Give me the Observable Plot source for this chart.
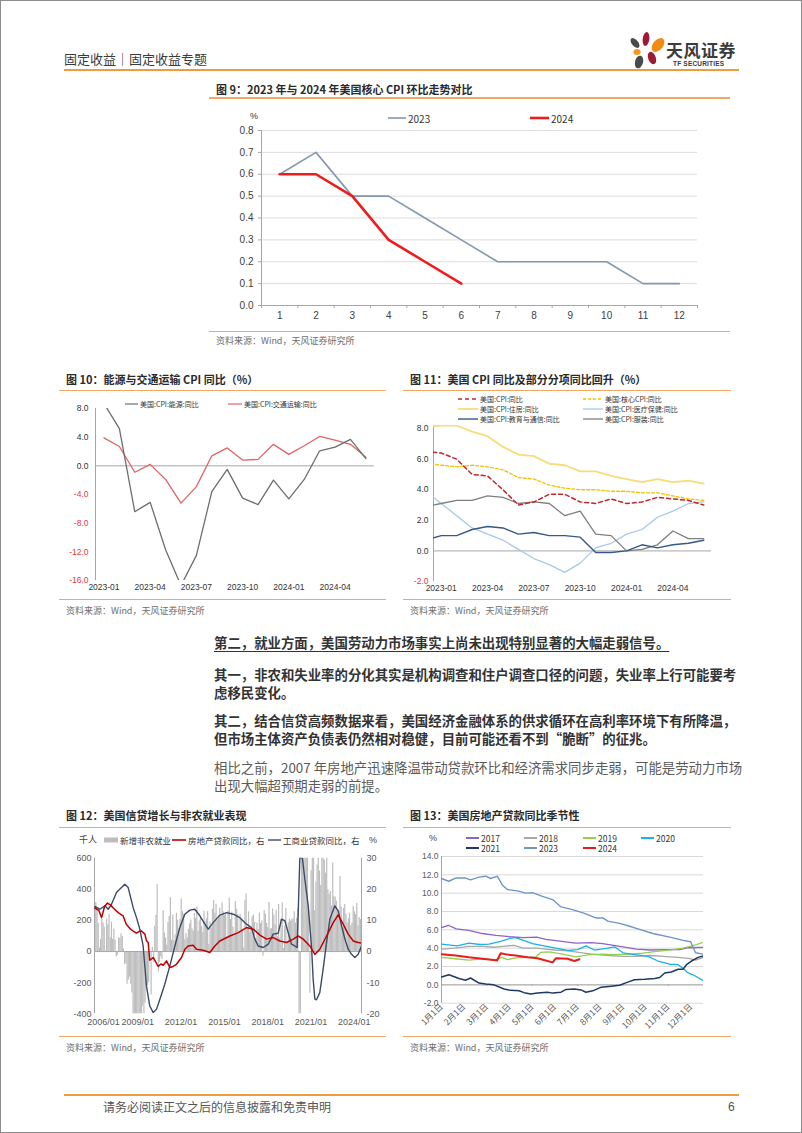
<!DOCTYPE html>
<html lang="zh-CN">
<head>
<meta charset="utf-8">
<script src="https://cdn.jsdelivr.net/npm/d3@7"></script>
<script src="https://cdn.jsdelivr.net/npm/@observablehq/plot@0.6"></script>
<style>
  html,body{margin:0;padding:0;background:#fff;}
  #page{position:relative;width:800px;height:1131px;border:1px solid #8c8c8c;overflow:hidden;
        font-family:"Noto Sans CJK SC","Noto Sans",sans-serif;color:#333;background:#fff;}
  .a{position:absolute;white-space:nowrap;}
  .leg{position:absolute;white-space:nowrap;display:flex;align-items:center;height:10px;}
  .leg svg{display:block;margin-right:2px;}
</style>
</head>
<body>
<div id="page"></div>
<script>
// ================= DATA =================
// Fig 9: US core CPI MoM, %
const months9 = [1,2,3,4,5,6,7,8,9,10,11,12];
const core2023 = [0.6,0.7,0.5,0.5,0.4,0.3,0.2,0.2,0.2,0.2,0.1,0.1];
const core2024 = [0.6,0.6,0.5,0.3,0.2,0.1];
const yTicks9 = [0,0.1,0.2,0.3,0.4,0.5,0.6,0.7,0.8];

// Fig 10: energy & transportation CPI YoY, %
const periods10 = ["2023-01","2023-02","2023-03","2023-04","2023-05","2023-06","2023-07","2023-08","2023-09",
                   "2023-10","2023-11","2023-12","2024-01","2024-02","2024-03","2024-04","2024-05","2024-06"];
const energyYoY    = [8.7,5.2,-6.4,-5.1,-11.7,-16.7,-12.5,-3.6,-0.5,-4.5,-5.4,-2.0,-4.6,-1.9,2.1,2.6,3.7,1.0];
const transportYoY = [3.9,2.7,-0.9,0.2,-1.9,-5.2,-2.9,1.4,2.5,0.8,0.9,3.0,1.6,2.8,4.1,3.6,3.0,1.2];
const xLabels10 = ["2023-01","2023-04","2023-07","2023-10","2024-01","2024-04"];
const yTicks10 = [-16,-12,-8,-4,0,4,8];

// Fig 11: CPI YoY and components, % (2022-12 .. 2024-06)
const periods11 = ["2022-12","2023-01","2023-02","2023-03","2023-04","2023-05","2023-06","2023-07","2023-08","2023-09",
                   "2023-10","2023-11","2023-12","2024-01","2024-02","2024-03","2024-04","2024-05","2024-06"];
const cpiYoY     = [6.5,6.4,6.0,5.0,4.9,4.0,3.0,3.2,3.7,3.7,3.2,3.1,3.4,3.1,3.2,3.5,3.4,3.3,3.0];
const coreYoY    = [5.7,5.6,5.5,5.6,5.5,5.3,4.8,4.7,4.3,4.1,4.0,4.0,3.9,3.9,3.8,3.8,3.6,3.4,3.3];
const housingYoY = [8.1,8.2,8.2,7.8,7.5,6.8,6.3,6.2,5.7,5.6,5.2,5.2,4.9,4.7,4.5,4.7,4.5,4.6,4.4];
const medicalYoY = [3.9,3.1,2.3,1.5,1.1,0.7,0.1,-0.5,-0.9,-1.4,-0.8,0.2,0.5,1.1,1.4,2.2,2.6,3.1,3.2];
const eduYoY     = [0.7,1.0,1.0,1.4,1.6,1.5,1.1,1.2,1.0,1.0,0.9,-0.1,-0.1,0.0,0.4,0.2,0.4,0.5,0.7];
const apparelYoY = [2.9,3.1,3.3,3.3,3.6,3.5,3.1,3.2,3.1,2.3,2.6,1.1,1.0,0.0,0.1,0.4,1.3,0.8,0.8];
const xLabels11 = ["2023-01","2023-04","2023-07","2023-10","2024-01","2024-04"];
const yTicks11 = [-2,0,2,4,6,8];

// Fig 12: nonfarm payrolls (thousand, monthly from 2006-01), loans YoY (%)
const payrollStart = 2006;
const payrolls = [
  277,315,280,182,23,77,207,184,157,4,208,171,
  238,88,188,78,144,71,-33,-24,88,84,114,98,
  17,-84,-78,-210,-185,-165,-209,-266,-452,-473,-769,-695,
  -791,-703,-823,-686,-351,-470,-329,-212,-219,-200,-7,-279,
  28,-69,163,232,430,-133,-70,-34,-52,262,119,87,
  42,188,225,346,73,235,70,107,246,202,146,207,
  338,257,239,75,115,87,143,177,203,146,132,244,
  211,286,130,197,226,162,122,261,190,212,258,47,
  190,151,272,329,246,304,202,230,280,227,312,255,
  234,238,86,262,344,206,254,157,100,321,272,239,
  115,240,209,144,24,327,370,150,255,124,155,224,
  234,187,84,182,141,247,179,197,-30,264,241,181,
  155,316,144,147,273,235,173,266,96,303,87,206,
  313,21,164,276,62,185,207,195,208,208,256,184,
  214,273,-1373,-20477,2725,4781,1726,1583,716,680,264,-268,
  520,710,704,264,447,557,689,517,424,677,647,588,
  504,714,398,368,386,293,568,352,350,324,263,239,
  482,287,146,278,303,240,184,210,246,165,182,290,
  256,236,310,165,218,206
];
const reLoanTime = [2006.02,2006.3,2006.49,2006.7,2006.9,2007.1,2007.3,2007.64,2007.98,2008.2,2008.5,2008.68,2008.91,2009.1,2009.26,2009.49,2009.6,2009.72,2009.83,2010.07,2010.41,2010.6,2010.76,2010.99,2011.22,2011.45,2011.68,2012.03,2012.26,2012.49,2012.84,2013.07,2013.53,2013.99,2014.34,2014.68,2015.38,2015.96,2016.53,2017.0,2017.46,2017.92,2018.38,2018.84,2019.31,2019.77,2020.12,2020.46,2020.92,2021.27,2021.61,2022.08,2022.54,2022.89,2023.23,2023.58,2023.93,2024.27,2024.5];
const reLoanYoY  = [14.0,13.2,10.9,14.5,15.6,15.0,14.0,12.5,11.5,8.8,7.2,6.6,5.9,6.5,6.6,5.6,3.5,2.9,-2.8,-1.9,-4.8,-4.0,-4.4,-3.0,-5.1,-4.8,-4.1,-1.9,0.75,1.8,2.0,0.75,0.4,-0.3,1.8,3.4,5.0,6.1,7.7,7.2,5.3,4.0,4.5,3.4,2.9,4.0,5.0,4.0,1.8,-0.9,0.75,5.0,9.3,11.8,8.8,5.6,3.4,2.9,2.7];
const ciLoanTime = [2006.02,2006.37,2006.72,2006.95,2007.18,2007.52,2007.87,2008.1,2008.33,2008.68,2008.91,2009.14,2009.37,2009.6,2009.83,2010.07,2010.3,2010.53,2010.87,2011.22,2011.57,2011.91,2012.26,2012.61,2012.95,2013.3,2013.65,2013.88,2014.22,2014.69,2015.15,2015.61,2016.07,2016.53,2016.88,2017.11,2017.34,2017.69,2018.04,2018.38,2018.73,2018.96,2019.19,2019.42,2019.65,2019.88,2020.04,2020.23,2020.41,2020.58,2020.81,2021.04,2021.15,2021.27,2021.38,2021.61,2021.84,2022.08,2022.31,2022.65,2022.89,2023.12,2023.35,2023.58,2023.81,2024.04,2024.27,2024.5];
const ciLoanYoY  = [14.5,13.6,14.7,13.6,15.2,19.0,20.6,21.6,20.6,14.1,10.9,7.2,1.8,-11,-17.5,-19.6,-18.5,-15.3,-10.5,-4.6,1.8,7.7,12.0,13.3,13.6,11.5,8.8,7.2,9.3,11.7,12.5,12.0,10.9,8.8,7.7,4.0,1.8,1.3,2.4,5.6,5.9,10.4,9.9,6.1,2.4,1.8,1.3,30.5,29.8,23,14.7,1.3,-8.9,-15.3,-15.5,-13.2,-5.7,2.9,10.4,14.7,13.1,8.3,4.0,0.75,-0.9,-1.9,-0.9,1.8];
const xTicks12 = [2006,2009,2012,2015,2018,2021,2024];
const yTicks12 = [-400,-200,0,200,400,600];
const rightRatio = 20; // right axis (%) = left axis (thousand) / 20

// Fig 13: real-estate loans YoY by year, [months since Jan 1, %]
const monthLabels13 = ["1月1日","2月1日","3月1日","4月1日","5月1日","6月1日","7月1日","8月1日","9月1日","10月1日","11月1日","12月1日"];
const yTicks13 = [-2,0,2,4,6,8,10,12,14];
const loans2017 = [[0,6.25],[0.3,6.5],[0.65,6.1],[1.2,5.95],[1.8,5.6],[2.4,5.4],[3.0,5.25],[3.6,5.15],[4.2,5.2],[4.6,4.95],[5.3,4.75],[5.9,4.55],[6.6,4.6],[7.1,4.5],[8.0,4.15],[8.6,3.9],[9.2,3.8],[10.0,3.85],[10.5,3.85],[10.9,4.05],[11.54,4.1]];
const loans2018 = [[0,3.9],[0.6,4.0],[1.2,4.2],[1.8,4.2],[2.3,4.1],[2.7,4.2],[3.2,4.3],[3.6,4.0],[4.2,4.0],[4.6,3.9],[5.0,3.8],[5.6,3.7],[6.2,3.5],[6.8,3.3],[7.4,3.2],[8.0,3.1],[8.6,3.1],[9.2,3.2],[9.8,3.1],[10.4,3.0],[10.9,2.9],[11.2,2.7],[11.54,3.0]];
const loans2019 = [[0,3.0],[0.62,2.85],[1.21,2.7],[1.8,2.85],[2.32,2.7],[2.68,3.0],[2.9,2.75],[3.27,2.95],[3.79,3.0],[4.16,3.05],[4.38,3.55],[4.75,3.6],[5.34,3.35],[5.93,3.05],[6.52,3.3],[7.11,3.35],[7.7,3.3],[8.29,3.35],[8.88,3.45],[9.47,3.65],[10.06,3.8],[10.65,4.0],[11.24,4.4],[11.54,4.65]];
const loans2020 = [[0,4.45],[0.69,4.25],[1.21,4.55],[1.7,4.4],[2.09,4.45],[2.61,4.75],[3.05,5.1],[3.27,5.15],[4.01,4.5],[4.75,4.15],[5.56,3.75],[6.0,3.85],[6.37,4.25],[6.74,3.8],[7.33,4.0],[7.63,4.15],[8.0,3.5],[8.51,3.3],[9.1,3.1],[9.54,2.6],[10.06,2.25],[10.43,2.2],[10.65,1.8],[10.87,1.3],[11.09,1.1],[11.54,0.45]];
const loans2021 = [[0,0.85],[0.33,1.1],[0.77,0.7],[1.06,0.5],[1.28,0.75],[1.65,0.2],[1.95,0.1],[2.31,0.0],[2.76,-0.45],[3.05,-0.6],[3.42,-0.65],[3.64,-0.85],[3.94,-1.0],[4.23,-0.9],[4.67,-0.8],[4.9,-0.9],[5.27,-0.8],[5.49,-0.5],[5.86,-0.45],[6.15,-0.55],[6.37,-0.8],[6.67,-0.65],[7.04,-0.25],[7.48,-0.15],[7.85,-0.05],[8.21,0.3],[8.51,0.55],[8.95,0.6],[9.4,0.7],[9.62,0.8],[9.84,1.3],[10.13,1.4],[10.43,1.7],[10.65,1.7],[10.8,2.2],[11.02,2.6],[11.31,3.0],[11.54,3.15]];
const loans2023 = [[0,11.6],[0.32,11.3],[0.62,11.65],[1.06,11.65],[1.28,11.45],[1.65,11.75],[1.95,11.85],[2.17,11.6],[2.46,11.85],[2.68,10.9],[2.9,10.4],[3.35,10.25],[3.72,10.0],[4.01,10.05],[4.45,9.65],[4.9,9.3],[5.27,8.5],[5.78,8.2],[6.3,7.8],[6.81,7.3],[7.11,7.3],[7.33,6.95],[7.85,6.7],[8.22,6.45],[8.73,6.05],[9.32,5.6],[10.06,5.2],[10.65,4.85],[10.98,4.7],[11.2,3.5],[11.54,3.35]];
const loans2024 = [[0,3.35],[0.62,3.2],[1.21,3.0],[1.8,2.85],[2.31,2.7],[2.45,2.65],[2.61,3.45],[2.91,3.3],[3.27,3.2],[3.79,3.0],[4.23,2.9],[4.67,2.6],[4.9,2.45],[5.04,2.9],[5.56,2.85],[5.86,2.6],[6.08,2.8]];

// ================= HELPERS =================
const page = document.getElementById("page");
const CJK = `"Noto Sans CJK SC","Noto Sans",sans-serif`;
const LAT = `"Liberation Sans",Arial,sans-serif`;
function put(el, left, top){ el.style.position="absolute"; el.style.left=left+"px"; el.style.top=top+"px"; page.appendChild(el); return el; }
function txt(html, left, top, style){ const d=document.createElement("div"); d.className="a"; d.setAttribute("style", style); d.innerHTML=html; return put(d,left,top); }
function rule(left, top, width, h, color){ const d=document.createElement("div"); d.setAttribute("style",`height:${h}px;width:${width}px;background:${color}`); return put(d,left,top); }
function lineSw(len,color,sw,dash){ return `<svg width="${len}" height="8"><line x1="0" x2="${len}" y1="4" y2="4" stroke="${color}" stroke-width="${sw}" ${dash?`stroke-dasharray="${dash}"`:""}/></svg>`; }
function rectSw(w,h,color){ return `<svg width="${w}" height="8"><rect x="0" y="${4-h/2}" width="${w}" height="${h}" fill="${color}"/></svg>`; }
function leg(left, cy, sw, text, fs, ff, color, weight){
  const d=document.createElement("div"); d.className="leg";
  d.innerHTML = sw + `<span style="font-size:${fs}px;font-family:${ff};color:${color||"#222"};font-weight:${weight||400};line-height:10px">${text}</span>`;
  put(d, left, cy-5);
}
function placeChart(svg, left, top){ svg.style.position="absolute"; svg.style.left=left+"px"; svg.style.top=top+"px"; svg.style.maxWidth="none"; svg.style.overflow="visible"; page.appendChild(svg); }
const ORANGE = "#f4a762";
const AX = "#a6a6a6";
const titleStyle = `font-size:11px;line-height:14px;color:#2a2a2a;font-weight:700;font-family:${CJK};`;
const srcStyle = `font-size:9px;line-height:12px;color:#6e6e6e;font-family:${CJK};`;

// ================= HEADER / FOOTER =================
txt("固定收益｜固定收益专题", 63, 50, `font-size:13px;line-height:16px;color:#3a3a3a;font-family:${CJK};`);
rule(63, 68, 675, 2, "#ef9b3f");
const logo = document.createElement("div");
logo.innerHTML = `<svg width="40" height="46" viewBox="0 0 40 46">
  <ellipse cx="19" cy="10" rx="3.3" ry="7" fill="#9e1b38" transform="rotate(8 19 10)"/>
  <ellipse cx="31" cy="16" rx="5" ry="8" fill="#f08c12" transform="rotate(40 31 16)"/>
  <ellipse cx="8" cy="14" rx="3.2" ry="5.8" fill="#4a4a4a" transform="rotate(-40 8 14)"/>
  <ellipse cx="10" cy="23" rx="3.6" ry="3" fill="#f39a1e"/>
  <ellipse cx="25" cy="29" rx="3.8" ry="6.5" fill="#9e1b38" transform="rotate(-20 25 29)"/>
  <ellipse cx="12" cy="33" rx="4" ry="6.5" fill="#4a4a4a" transform="rotate(15 12 33)"/>
</svg>`;
put(logo, 626, 28);
txt("天风证券", 665, 38, `font-size:17px;line-height:22px;font-weight:700;color:#3c3c3c;font-family:${CJK};letter-spacing:0.5px`);
txt("TF SECURITIES", 672, 59, `font-size:6.5px;line-height:8px;font-weight:700;color:#3c3c3c;font-family:${LAT};letter-spacing:0.2px`);

rule(63, 1093, 675, 2, "#ef9b3f");
txt("请务必阅读正文之后的信息披露和免责申明", 102, 1098, `font-size:12px;line-height:16px;color:#555;font-family:${CJK};`);
txt("6", 727, 1098, `font-size:12px;line-height:16px;color:#555;font-family:${LAT};`);

// ================= FIG 9 =================
txt("图 9：2023 年与 2024 年美国核心 CPI 环比走势对比", 215, 81, titleStyle);
rule(208, 96, 521, 1.5, ORANGE);
txt("%", 249, 109, `font-size:9px;line-height:12px;color:#333;font-family:${LAT};`);
leg(387, 117, lineSw(18,"#8497b0",1.6), "2023", 10, LAT, "#111");
leg(529, 117, lineSw(19,"#ee1c1c",2.6), "2024", 10, LAT, "#111");
{
  const r23 = core2023.map((v,i)=>({m:months9[i], v}));
  const r24 = core2024.map((v,i)=>({m:months9[i], v}));
  const bounds = months9.map(m=>m+0.5);
  const svg = Plot.plot({
    width:520, height:235, marginLeft:60, marginRight:24, marginTop:24, marginBottom:36,
    style:{background:"none", fontFamily:LAT, fontSize:"10px", color:"#404040", overflow:"visible"},
    x:{domain:[0.5,12.5]}, y:{domain:[0,0.8]},
    marks:[
      Plot.gridY(yTicks9.filter(d=>d>0), {stroke:"#dcdcdc", strokeOpacity:1}),
      Plot.ruleY([0], {stroke:AX}),
      Plot.ruleX([0.5], {stroke:AX}),
      Plot.axisY(yTicks9, {tickSize:3, tickPadding:5, tickFormat:d=>d.toFixed(1), stroke:AX, fill:"#404040", label:null}),
      Plot.axisX(months9, {tickSize:0, tickPadding:6, tickFormat:d=>String(d), fill:"#404040", label:null}),
      Plot.axisX([0.5, ...bounds], {tickSize:3, tickFormat:()=>"", stroke:AX, label:null}),
      Plot.line(r23, {x:"m", y:"v", stroke:"#8497b0", strokeWidth:1.6}),
      Plot.line(r24, {x:"m", y:"v", stroke:"#ee1c1c", strokeWidth:2.6})
    ]
  });
  placeChart(svg, 200, 105);
}
rule(208, 329.5, 521, 1.5, ORANGE);
txt("资料来源：Wind，天风证券研究所", 215, 334, srcStyle);

// ================= FIG 10 =================
txt("图 10：能源与交通运输 CPI 同比（%）", 65, 371, titleStyle);
rule(58, 388.5, 327, 1.5, ORANGE);
leg(124, 403, lineSw(13,"#6e6e6e",1.2), "美国:CPI:能源:同比", 7, CJK, "#222");
leg(227, 403, lineSw(14,"#e06464",1.2), "美国:CPI:交通运输:同比", 7, CJK, "#222");
{
  const rE = energyYoY.map((v,i)=>({i, v}));
  const rT = transportYoY.map((v,i)=>({i, v}));
  const svg = Plot.plot({
    width:335, height:200, marginLeft:44, marginRight:12, marginTop:12, marginBottom:16,
    style:{background:"none", fontFamily:LAT, fontSize:"8.5px", color:"#333", overflow:"visible"},
    x:{domain:[-0.55,17.56]}, y:{domain:[-16,8]},
    marks:[
      Plot.ruleX([-0.55], {stroke:AX}),
      Plot.ruleY([0], {stroke:AX}),
      Plot.axisY(yTicks10.filter(d=>d>=0), {tickSize:0, tickPadding:7, tickFormat:d=>d.toFixed(1), fill:"#333", label:null}),
      Plot.axisY(yTicks10.filter(d=>d<0), {tickSize:0, tickPadding:7, tickFormat:d=>d.toFixed(1), fill:"#e8383d", label:null}),
      Plot.axisX(xLabels10.map(l=>periods10.indexOf(l)), {tickSize:0, tickPadding:3, tickFormat:i=>periods10[i], fill:"#333", label:null}),
      Plot.line(rT, {x:"i", y:"v", stroke:"#e06464", strokeWidth:1.3, clip:true}),
      Plot.line(rE, {x:"i", y:"v", stroke:"#6e6e6e", strokeWidth:1.3, clip:true})
    ]
  });
  placeChart(svg, 50, 395);
}
rule(58, 597.5, 327, 1.5, ORANGE);
txt("资料来源：Wind，天风证券研究所", 65, 604, srcStyle);

// ================= FIG 11 =================
txt("图 11：美国 CPI 同比及部分分项同比回升（%）", 409, 371, titleStyle);
rule(402, 388.5, 328, 1.5, ORANGE);
const series11 = [
  {name:"美国:CPI:同比", values:cpiYoY, color:"#c0272d", sw:1.5, dash:"4,3", col:0, row:0},
  {name:"美国:核心CPI:同比", values:coreYoY, color:"#f2c200", sw:1.3, dash:"3,2", col:1, row:0},
  {name:"美国:CPI:住房:同比", values:housingYoY, color:"#f8dc78", sw:1.8, dash:null, col:0, row:1},
  {name:"美国:CPI:医疗保健:同比", values:medicalYoY, color:"#a9c8e6", sw:1.3, dash:null, col:1, row:1},
  {name:"美国:CPI:教育与通信:同比", values:eduYoY, color:"#34598a", sw:1.4, dash:null, col:0, row:2},
  {name:"美国:CPI:服装:同比", values:apparelYoY, color:"#7f7f7f", sw:1.3, dash:null, col:1, row:2}
];
series11.forEach(s=>{
  leg(s.col===0?457:582, 398+10*s.row, lineSw(20,s.color,s.sw,s.dash), s.name, 7, CJK, "#222");
});
{
  const drawOrder = [2,3,5,4,1,0];
  const svg = Plot.plot({
    width:335, height:175, marginLeft:32, marginRight:25, marginTop:4, marginBottom:15,
    style:{background:"none", fontFamily:LAT, fontSize:"8.5px", color:"#333", overflow:"visible"},
    x:{domain:[-0.5,17.5]}, y:{domain:[-2,8.2]},
    marks:[
      Plot.ruleX([-0.5], {stroke:AX}),
      Plot.ruleY([0], {stroke:AX}),
      Plot.axisY(yTicks11.filter(d=>d>=0), {tickSize:0, tickPadding:5, tickFormat:d=>d.toFixed(1), fill:"#333", label:null}),
      Plot.axisY(yTicks11.filter(d=>d<0), {tickSize:0, tickPadding:5, tickFormat:d=>d.toFixed(1), fill:"#e8383d", label:null}),
      Plot.axisX(xLabels11.map(l=>periods11.indexOf(l)-1), {tickSize:0, tickPadding:3, tickFormat:i=>periods11[i+1], fill:"#333", label:null}),
      ...drawOrder.map(k=>{
        const s = series11[k];
        return Plot.line(s.values.map((v,i)=>({i:i-1, v})), {x:"i", y:"v", stroke:s.color, strokeWidth:s.sw, strokeDasharray:s.dash||undefined, clip:true});
      })
    ]
  });
  placeChart(svg, 400, 420);
}
rule(402, 597.5, 328, 1.5, ORANGE);
txt("资料来源：Wind，天风证券研究所", 409, 604, srcStyle);

// ================= TEXT =================
const pStyle = `font-size:13.4px;line-height:18px;font-family:${CJK};`;
txt("第二，就业方面，美国劳动力市场事实上尚未出现特别显著的大幅走弱信号。", 213, 631.5,
    pStyle+"font-weight:700;color:#333;text-decoration:underline;text-underline-offset:3px;text-decoration-thickness:1px;");
txt("其一，非农和失业率的分化其实是机构调查和住户调查口径的问题，失业率上行可能要考<br>虑移民变化。", 213, 664,
    pStyle+"font-weight:700;color:#333;");
txt("其二，结合信贷高频数据来看，美国经济金融体系的供求循环在高利率环境下有所降温，<br>但市场主体资产负债表仍然相对稳健，目前可能还看不到“脆断”的征兆。", 213, 710,
    pStyle+"font-weight:700;color:#333;");
txt("相比之前，2007 年房地产迅速降温带动贷款环比和经济需求同步走弱，可能是劳动力市场<br>出现大幅超预期走弱的前提。", 213, 756.5,
    pStyle+"font-weight:400;color:#5a5a5a;");

// ================= FIG 12 =================
txt("图 12：美国信贷增长与非农就业表现", 65, 807, titleStyle);
rule(58, 825.5, 327, 1.5, ORANGE);
txt("千人", 78, 833, `font-size:9px;line-height:12px;color:#444;font-family:${CJK};`);
txt("%", 368, 833, `font-size:9px;line-height:12px;color:#444;font-family:${LAT};`);
leg(103, 839, rectSw(14,5,"#bdbdbd"), "新增非农就业", 8.5, CJK, "#333");
leg(171, 839, lineSw(14,"#c00000",1.6), "房地产贷款同比，右", 8.5, CJK, "#333");
leg(267, 839, lineSw(13,"#3b4a66",1.4), "工商业贷款同比，右", 8.5, CJK, "#333");
{
  const bars = payrolls.map((v,i)=>({t0:payrollStart+i/12, t1:payrollStart+(i+1)/12, v}));
  const re = reLoanTime.map((t,i)=>({t, v:reLoanYoY[i]*rightRatio}));
  const ci = ciLoanTime.map((t,i)=>({t, v:ciLoanYoY[i]*rightRatio}));
  const svg = Plot.plot({
    width:335, height:180, marginLeft:43, marginRight:25, marginTop:6.7, marginBottom:17.7,
    style:{background:"none", fontFamily:LAT, fontSize:"9px", color:"#595959", overflow:"visible"},
    x:{domain:[2006,2024.5]}, y:{domain:[-400,600]},
    marks:[
      Plot.rect(bars, {x1:"t0", x2:"t1", y1:()=>0, y2:"v", fill:"#bdbdbd", clip:true}),
      Plot.ruleY([0], {stroke:AX}),
      Plot.ruleX([2006, 2024.5], {stroke:AX}),
      Plot.axisY(yTicks12, {anchor:"left", tickSize:0, tickPadding:3, tickFormat:d=>String(d), fill:"#595959", label:null}),
      Plot.axisY(yTicks12, {anchor:"right", tickSize:0, tickPadding:5, tickFormat:d=>String(d/rightRatio), fill:"#595959", label:null}),
      Plot.axisX(xTicks12.slice(0,1), {tickSize:0, tickPadding:5, dx:9, tickFormat:d=>d+"/01", fill:"#595959", label:null}),
      Plot.axisX(xTicks12.slice(1), {tickSize:0, tickPadding:5, tickFormat:d=>d+"/01", fill:"#595959", label:null}),
      Plot.line(ci, {x:"t", y:"v", stroke:"#3b4a66", strokeWidth:1.4, clip:true}),
      Plot.line(re, {x:"t", y:"v", stroke:"#c00000", strokeWidth:1.5, clip:true})
    ]
  });
  placeChart(svg, 50, 850);
}
rule(58, 1034.5, 327, 1.5, ORANGE);
txt("资料来源：Wind，天风证券研究所", 65, 1041, srcStyle);

// ================= FIG 13 =================
txt("图 13：美国房地产贷款同比季节性", 409, 807, titleStyle);
rule(402, 825.5, 328, 1.5, ORANGE);
txt("%", 428, 831, `font-size:9px;line-height:12px;color:#444;font-family:${LAT};`);
const series13 = [
  {name:"2017", data:loans2017, color:"#8e62c6", sw:1.3, col:0, row:0},
  {name:"2018", data:loans2018, color:"#a8a8a8", sw:1.3, col:1, row:0},
  {name:"2019", data:loans2019, color:"#92d050", sw:1.3, col:2, row:0},
  {name:"2020", data:loans2020, color:"#1ab0e8", sw:1.3, col:3, row:0},
  {name:"2021", data:loans2021, color:"#1f3864", sw:1.5, col:0, row:1},
  {name:"2023", data:loans2023, color:"#6f95c9", sw:1.4, col:1, row:1},
  {name:"2024", data:loans2024, color:"#e81c1c", sw:2.0, col:2, row:1}
];
const legCols13 = [465, 523, 582, 640];
series13.forEach(s=>{
  leg(legCols13[s.col], 836.5+10.8*s.row, lineSw(13,s.color,2), s.name, 8.5, LAT, "#222", 700);
});
{
  const monthPos = monthLabels13.map((_,i)=>i);
  const svg = Plot.plot({
    width:335, height:185, marginLeft:40, marginRight:33, marginTop:5, marginBottom:33.3,
    style:{background:"none", fontFamily:LAT, fontSize:"8.5px", color:"#595959", overflow:"visible"},
    x:{domain:[0,11.55]}, y:{domain:[-2,14]},
    marks:[
      Plot.gridY(yTicks13, {stroke:"#d9d9d9", strokeOpacity:1}),
      Plot.ruleX([0], {stroke:AX}),
      Plot.ruleY([0], {stroke:AX}),
      Plot.ruleX(monthPos.filter(i=>i%2===0), {x:d=>d, y1:()=>0, y2:()=>-0.18, stroke:AX}),
      Plot.axisY(yTicks13, {tickSize:0, tickPadding:3, tickFormat:d=>d.toFixed(1), fill:"#595959", label:null}),
      Plot.axisX(monthPos, {tickSize:0, tickPadding:2, tickRotate:-45, tickFormat:i=>monthLabels13[i], fill:"#595959", fontFamily:CJK, label:null}),
      ...series13.map(s=>Plot.line(s.data, {x:d=>d[0], y:d=>d[1], stroke:s.color, strokeWidth:s.sw, clip:true}))
    ]
  });
  placeChart(svg, 400, 850);
}
rule(402, 1034.5, 328, 1.5, ORANGE);
txt("资料来源：Wind，天风证券研究所", 409, 1041, srcStyle);
</script>
</body>
</html>
